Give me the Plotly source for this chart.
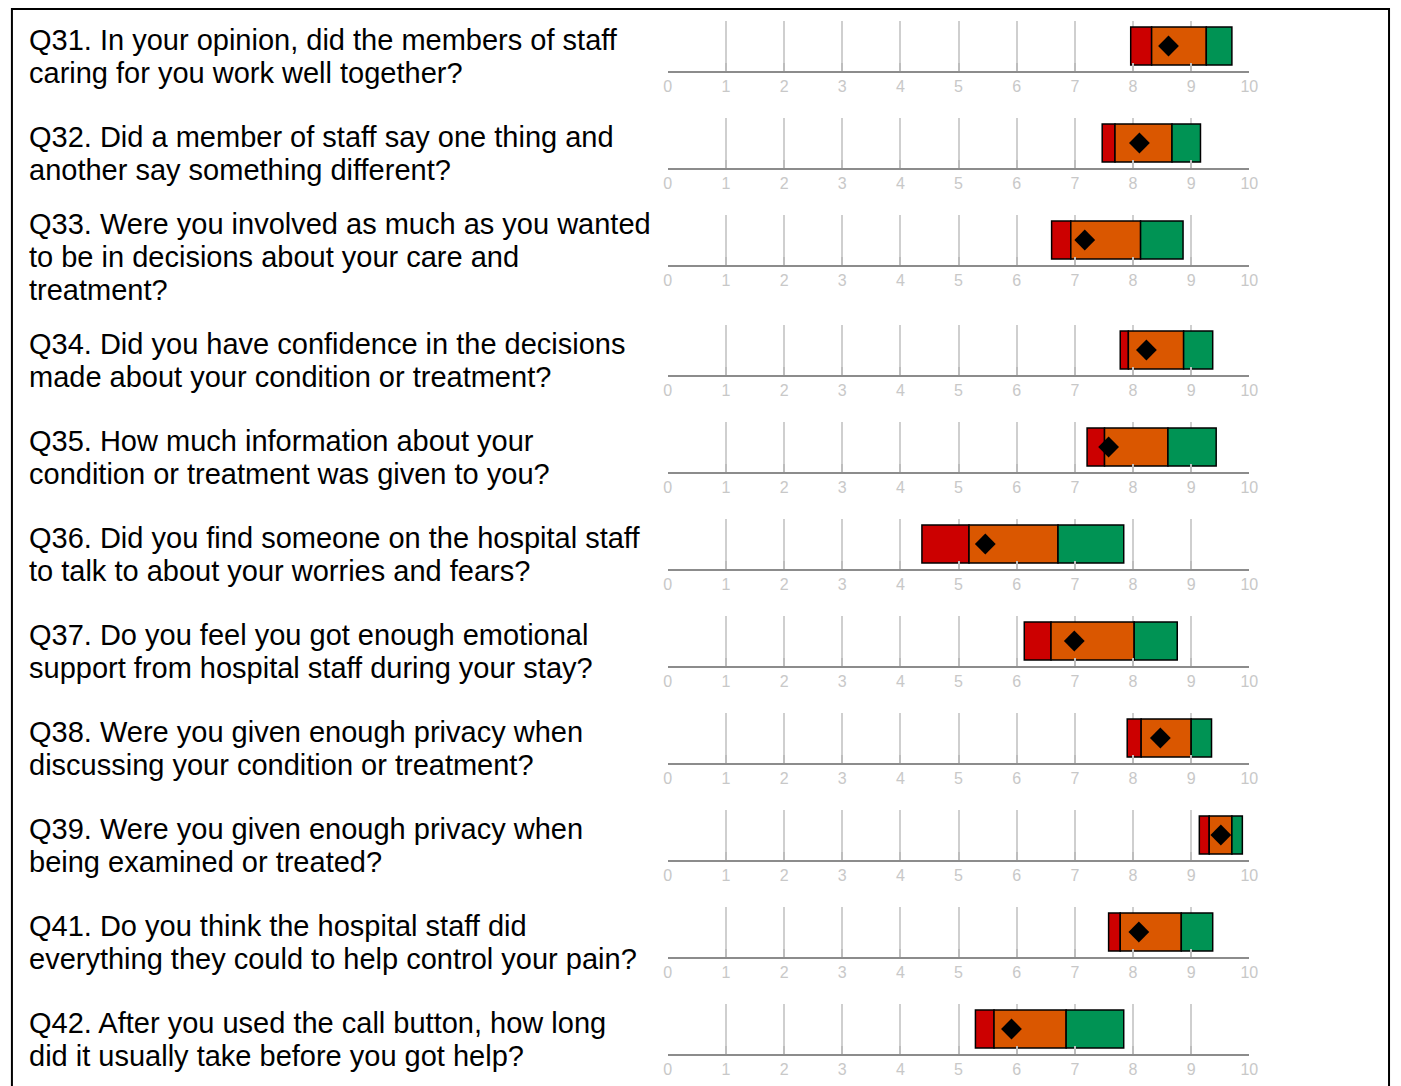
import plotly.graph_objects as go

# ---------------- data ----------------
questions = [
    ["Q31. In your opinion, did the members of staff", "caring for you work well together?"],
    ["Q32. Did a member of staff say one thing and", "another say something different?"],
    ["Q33. Were you involved as much as you wanted", "to be in decisions about your care and", "treatment?"],
    ["Q34. Did you have confidence in the decisions", "made about your condition or treatment?"],
    ["Q35. How much information about your", "condition or treatment was given to you?"],
    ["Q36. Did you find someone on the hospital staff", "to talk to about your worries and fears?"],
    ["Q37. Do you feel you got enough emotional", "support from hospital staff during your stay?"],
    ["Q38. Were you given enough privacy when", "discussing your condition or treatment?"],
    ["Q39. Were you given enough privacy when", "being examined or treated?"],
    ["Q41. Do you think the hospital staff did", "everything they could to help control your pain?"],
    ["Q42. After you used the call button, how long", "did it usually take before you got help?"],
]
band_start = [7.96, 7.47, 6.60, 7.78, 7.21, 4.37, 6.13, 7.90, 9.14, 7.58, 5.29]
red_end    = [8.32, 7.69, 6.93, 7.92, 7.51, 5.18, 6.59, 8.14, 9.31, 7.78, 5.61]
orange_end = [9.26, 8.67, 8.13, 8.87, 8.60, 6.71, 8.02, 9.00, 9.70, 8.83, 6.85]
band_end   = [9.70, 9.16, 8.86, 9.37, 9.43, 7.84, 8.76, 9.35, 9.88, 9.37, 7.84]
scores     = [8.61, 8.11, 7.17, 8.23, 7.58, 5.46, 6.99, 8.47, 9.51, 8.10, 5.91]
tick_values = list(range(0, 11))
tick_labels = [str(v) for v in tick_values]

# ---------------- layout constants ----------------
W, H = 1401, 1086
X0, X1 = 670, 1257
RED, ORANGE, GREEN = "#CC0000", "#DA5700", "#009354"
FONT = "Liberation Sans, Arial, sans-serif"
TEXT_SIZE = 29
LINE_GAP = 33

fig = go.Figure()
annotations = []
layout_axes = {}

top = 8
for i, lines in enumerate(questions):
    nlines = len(lines)
    row_h = 97 + 13 * (nlines - 2)
    n = "" if i == 0 else str(i + 1)
    xa, ya = "x" + n, "y" + n

    segs = [
        (band_start[i], red_end[i], RED),
        (red_end[i], orange_end[i], ORANGE),
        (orange_end[i], band_end[i], GREEN),
    ]
    for b, e, c in segs:
        fig.add_trace(go.Bar(
            x=[e - b], base=[b], y=[0.5], orientation="h", width=0.76,
            marker=dict(color=c, line=dict(color="black", width=1.5)),
            xaxis=xa, yaxis=ya, showlegend=False, hoverinfo="skip",
        ))
    fig.add_trace(go.Scatter(
        x=[scores[i]], y=[0.5], mode="markers",
        marker=dict(symbol="diamond", size=16, color="black"),
        xaxis=xa, yaxis=ya, showlegend=False, hoverinfo="skip",
    ))

    y_bottom = 1 - (top + 63) / H
    y_top = 1 - (top + 13) / H
    layout_axes["xaxis" + n] = dict(
        domain=[X0 / W, X1 / W], anchor=ya, range=[0, 10],
        tickvals=tick_values, ticktext=tick_labels,
        showgrid=True, gridcolor="#cfcfcf", gridwidth=1.5,
        showline=True, linecolor="#8c8c8c", linewidth=2,
        ticks="inside", ticklen=8, tickcolor="#bdbdbd", tickwidth=2,
        tickfont=dict(size=16, color="#c8c8c8", family=FONT),
        zeroline=False, fixedrange=True,
    )
    layout_axes["yaxis" + n] = dict(
        domain=[y_bottom, y_top], anchor=xa, range=[0, 1],
        visible=False, fixedrange=True,
    )
    center = top + row_h / 2
    for k, line in enumerate(lines):
        y_px = center + (k - (nlines - 1) / 2) * LINE_GAP
        annotations.append(dict(
            text=line, xref="paper", yref="paper",
            x=23 / W, y=1 - y_px / H,
            xanchor="left", yanchor="middle", align="left", showarrow=False,
            font=dict(size=TEXT_SIZE, color="black", family=FONT),
        ))
    top += row_h

fig.update_layout(
    width=W, height=H,
    margin=dict(l=0, r=0, t=0, b=0),
    paper_bgcolor="white", plot_bgcolor="rgba(0,0,0,0)",
    barmode="overlay",
    annotations=annotations,
    shapes=[dict(
        type="rect", xref="paper", yref="paper",
        x0=8 / W, x1=1398 / W, y0=-0.05, y1=1 - 9 / H,
        line=dict(color="black", width=2), fillcolor="rgba(0,0,0,0)",
    )],
    **layout_axes,
)

fig.write_html(
    "out.html",
    config={"displayModeBar": False},
    post_script="document.body.style.margin='0';document.body.style.overflow='hidden';",
)
